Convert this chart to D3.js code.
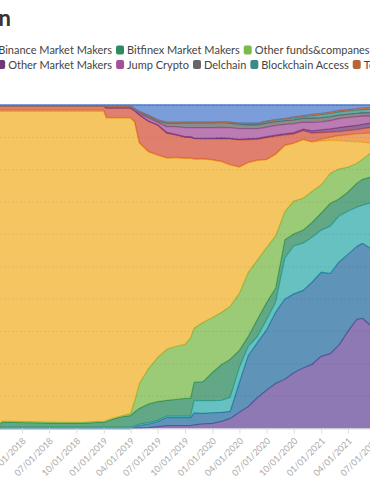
<!DOCTYPE html>
<html>
<head>
<meta charset="utf-8">
<script src="https://cdn.jsdelivr.net/npm/d3@7"></script>
<style>
  html, body { margin: 0; padding: 0; background: #fff; overflow: hidden; }
  #chart { width: 370px; height: 490px; }
  text { font-family: Lato, "Noto Sans", sans-serif; }
</style>
</head>
<body>
<div id="chart"></div>
<script>
// Datos (porcentaje del total en cada fecha)
const dates = ["2018-01-01","2018-01-25","2018-03-01","2018-05-01","2018-07-01","2018-09-01","2018-11-01","2018-12-15",
  "2019-01-01","2019-01-10","2019-02-01","2019-03-01","2019-04-01","2019-04-15","2019-05-01","2019-06-01","2019-07-01",
  "2019-08-01","2019-09-01","2019-10-01","2019-10-20","2019-11-01","2019-12-01","2020-01-01","2020-02-01","2020-03-01",
  "2020-04-01","2020-05-01","2020-06-01","2020-07-01","2020-08-01","2020-09-01","2020-10-01","2020-11-01","2020-12-01",
  "2021-01-01","2021-02-01","2021-03-01","2021-04-01","2021-05-01","2021-05-20","2021-06-15","2021-07-01"];

const seriesNames = ["Alameda Research", "Cumberland", "Binance Market Makers", "Bitfinex Market Makers",
  "Other funds&companes", "Bitfinex", "Huobi", "Other exchanges", "Other Market Makers", "Jump Crypto",
  "Delchain", "Blockchain Access", "Tether Treasury", "Unknown"];

const seriesColors = ["#6a4c9c", "#2a6fa0", "#36acac", "#2e8b5e", "#7bb94b", "#f2b12c", "#e8892f",
  "#d4553f", "#6e3a78", "#a44f9a", "#666666", "#3a8a87", "#b8643a", "#4f7ccc"];

const alameda = [0,0,0,0,0,0,0,0,0,0,0,0,0,0.1,0.15,0.3,0.6,0.9,0.9,0.9,0.9,1.1,1.4,1.6,2.2,3.1,5.0,6.8,9.6,11.8,13.9,15.2,17.3,18.7,19.8,22.3,23.2,25.7,30.0,33.7,34.1,31.9,31.5];
const cumberland = [0,0,0,0,0,0,0,0,0,0,0,0,0,0.3,0.8,1.1,1.5,2.5,2.5,2.5,2.5,3.7,3.3,3.3,2.8,2.2,9.3,15.8,17.0,18.6,22.0,24.8,24.5,24.0,25.4,26.0,24.8,25.7,23.9,22.6,23.2,23.8,24.0];
const binanceMM = [0.4,0.4,0.4,0.4,0.4,0.4,0.4,0.4,0.4,0.4,0.4,0.4,0.4,0.4,0.4,0.4,0.4,0.4,0.4,0.4,0.4,3.9,3.9,3.7,3.7,4.3,4.6,2.8,1.9,3.1,3.1,12.7,14.9,14.6,13.9,13.0,14.6,14.2,13.3,12.1,11.8,13.9,14.0];
const bitfinexMM = [0,1.55,1.5,1.4,1.3,1.2,1.3,1.5,1.5,1.8,2.5,3.2,3.6,4.4,4.9,5.8,5.8,4.9,5.2,5.5,5.6,5.6,5.9,8.7,11.1,11.8,5.3,3.1,5.3,5.3,4.3,5.6,3.7,4.0,4.6,5.3,7.1,5.3,5.9,7.4,8.0,8.0,8.0];
const otherFunds = [0.3,0.3,0.3,0.3,0.3,0.3,0.3,0.3,0.3,0.3,0.3,0.3,0.6,3.4,7.7,11.0,13.6,15.8,16.4,16.7,18.6,16.7,18.3,17.0,16.1,16.4,17.6,19.8,18.3,17.0,16.1,8.7,10.2,9.9,9.6,8.7,9.3,9.3,7.7,6.2,6.2,7.4,7.4];
const bitfinex = [97.3,95.8,95.8,95.9,96.0,96.1,96.0,95.8,95.8,93.5,92.8,92.1,91.4,86.1,74.3,66.9,62.5,59.1,58.4,57.6,55.4,52.2,50.5,48.7,46.6,43.7,39.0,33.9,30.7,27.2,25.1,20.4,17.9,18.1,15.2,13.6,10.2,8.8,8.0,6.7,5.3,3.1,3.0];
const huobi = [0.4,0.4,0.4,0.4,0.4,0.4,0.4,0.4,0.4,0.1,0.1,0.1,0.1,0.1,0.1,0.1,0.1,0.1,0.1,0.1,0.1,0.1,0.1,0.1,0.1,0.1,0.1,0.1,0.1,0.1,0.1,0.1,0.1,0.1,0.2,0.5,1.0,1.5,2.0,2.4,2.7,3.1,3.1];
const otherExchanges = [1.2,1.2,1.2,1.2,1.2,1.2,1.2,1.2,1.2,3.0,3.0,3.0,3.0,3.4,8.6,9.3,9.2,7.6,6.9,6.4,6.4,6.2,6.1,6.4,7.0,7.9,8.3,7.0,6.4,6.7,5.5,3.2,2.8,2.7,2.6,2.1,1.5,1.3,1.3,1.3,1.5,1.7,1.7];
const otherMM = [0,0,0,0,0,0,0,0,0,0,0,0,0,0,0.1,0.1,0.1,0.2,0.2,0.2,0.2,0.2,0.2,0.2,0.2,0.2,0.2,0.3,0.3,0.3,0.3,0.3,0.4,0.4,0.7,0.8,1.0,1.2,1.3,1.3,1.3,1.4,1.4];
const jumpCrypto = [0,0,0,0,0,0,0,0,0,0.5,0.5,0.5,0.5,0.3,0.5,1.0,0.8,1.8,2.4,2.8,2.8,3.2,3.3,3.3,3.3,3.3,3.3,3.1,3.0,3.0,3.0,2.9,2.8,2.2,2.6,2.5,2.6,2.8,2.8,2.7,2.6,2.2,2.2];
const delchain = [0,0,0,0,0,0,0,0,0,0,0,0,0,0.3,0.4,0.6,0.5,1.1,1.1,1.5,1.5,1.5,1.5,1.5,1.5,1.4,1.3,1.2,1.2,1.2,1.2,1.2,1.2,1.2,1.3,1.3,1.2,1.1,1.0,1.0,1.0,1.0,1.0];
const blockchainAccess = [0,0,0,0,0,0,0,0,0,0,0,0,0,0,0,0.1,0.1,0.1,0.1,0.1,0.1,0.1,0.1,0.1,0.1,0.2,0.3,0.4,0.4,0.5,0.5,0.5,0.6,0.6,0.8,0.9,1.0,1.0,1.0,1.0,1.0,1.1,1.1];
const tetherTreasury = [0,0,0,0,0,0,0,0,0,0,0,0,0,0,0.1,0.2,0.2,0.2,0.2,0.1,0.1,0.1,0.1,0.1,0.1,0.1,0.1,0.1,0.1,0.1,0.1,0.1,0.3,0.2,0.4,0.4,0.4,0.4,0.4,0.5,0.5,0.5,0.5];
const unknown = [0.4,0.4,0.4,0.4,0.4,0.4,0.4,0.4,0.4,0.4,0.4,0.4,0.4,1.2,2.0,3.1,4.5,5.3,5.3,5.3,5.3,5.3,5.3,5.3,5.2,5.3,5.6,5.6,5.6,5.0,4.5,4.2,3.7,3.3,2.9,2.6,2.2,1.7,1.4,1.1,0.9,0.8,0.8];

const tickDates = ["2018-01-01","2018-04-01","2018-07-01","2018-10-01","2019-01-01","2019-04-01","2019-07-01","2019-10-01",
  "2020-01-01","2020-04-01","2020-07-01","2020-10-01","2021-01-01","2021-04-01","2021-07-01"];

const seriesValues = [alameda, cumberland, binanceMM, bitfinexMM, otherFunds, bitfinex, huobi, otherExchanges,
  otherMM, jumpCrypto, delchain, blockchainAccess, tetherTreasury, unknown];

const legendRow1 = seriesNames.slice(0, 8);
const legendRow2 = seriesNames.slice(8);

const parseDate = d3.timeParse("%Y-%m-%d");

// Tabla para d3.stack
const table = dates.map((d, i) => {
    const row = { date: parseDate(d) };
    seriesNames.forEach((name, j) => { row[name] = seriesValues[j][i]; });
    return row;
});

const width = 370, height = 490;
// El grafico original es mas ancho: solo se ve la parte central
const plot = { left: -4.8, right: 375, top: 105, bottom: 428.5 };

const svg = d3.select("#chart")
    .append("svg")
    .attr("width", width)
    .attr("height", height);

const x = d3.scaleTime()
    .domain(d3.extent(table, d => d.date))
    .range([plot.left, plot.right]);

const y = d3.scaleLinear()
    .domain([0, 1])
    .range([plot.bottom, plot.top]);

const color = d3.scaleOrdinal().domain(seriesNames).range(seriesColors);

const stacked = d3.stack()
    .keys(seriesNames)
    .offset(d3.stackOffsetExpand)(table);

const area = d3.area()
    .x(d => x(d.data.date))
    .y0(d => y(d[0]))
    .y1(d => y(d[1]));

const topLine = d3.line()
    .x(d => x(d.data.date))
    .y(d => y(d[1]));

// Areas
const layers = svg.append("g").attr("class", "layers")
    .selectAll("g")
    .data(stacked)
    .join("g");

layers.append("path")
    .attr("d", area)
    .attr("fill", d => color(d.key))
    .attr("fill-opacity", 0.75);

layers.append("path")
    .attr("d", topLine)
    .attr("fill", "none")
    .attr("stroke", d => color(d.key))
    .attr("stroke-width", 1.3)
    .attr("stroke-linejoin", "round");

// Lineas de la cuadricula
svg.append("g")
    .attr("class", "grid")
    .selectAll("line")
    .data(y.ticks(10))
    .join("line")
    .attr("x1", 0)
    .attr("x2", width)
    .attr("y1", d => y(d))
    .attr("y2", d => y(d))
    .attr("stroke", "#000")
    .attr("stroke-opacity", 0.07)
    .attr("stroke-dasharray", "2,2");

// Eje X
const xAxis = svg.append("g")
    .attr("class", "x-axis")
    .attr("transform", `translate(0,${plot.bottom})`)
    .call(d3.axisBottom(x)
        .tickValues(tickDates.map(parseDate))
        .tickFormat(d3.timeFormat("%m/%d/%Y"))
        .tickSize(5)
        .tickSizeOuter(0));

xAxis.select(".domain").attr("stroke", "#ddd");
xAxis.selectAll(".tick line").attr("stroke", "#ddd");
xAxis.selectAll(".tick text")
    .attr("x", 0)
    .attr("y", 0)
    .attr("dy", 0)
    .attr("text-anchor", "end")
    .attr("transform", "translate(4,13) rotate(-45)")
    .style("font-family", "Lato, sans-serif")
    .style("font-size", "9px")
    .attr("fill", "#aaa");

// Titulo (recortado por la izquierda)
svg.append("text")
    .attr("x", 11)
    .attr("y", 26)
    .attr("text-anchor", "end")
    .style("font-size", "22px")
    .style("font-weight", "bold")
    .attr("fill", "#333")
    .text("USDT distribution");

// Leyenda
function legendRow(names, baseline, anchorName, anchorX) {
    const row = svg.append("g").attr("class", "legend-row");
    const items = row.selectAll("g").data(names).join("g");

    items.append("rect")
        .attr("width", 8)
        .attr("height", 9)
        .attr("rx", 2)
        .attr("y", baseline - 8.5)
        .attr("fill", d => color(d));

    items.append("text")
        .attr("x", 11)
        .attr("y", baseline)
        .style("font-size", "11px")
        .attr("fill", "#444")
        .text(d => d);

    const pos = {};
    let cx = 0;
    items.each(function(d) {
        pos[d] = cx;
        cx += 11 + d3.select(this).select("text").node().getComputedTextLength() + 4;
    });
    const shift = anchorX - pos[anchorName];
    items.attr("transform", d => `translate(${pos[d] + shift},0)`);
}

// anclar en el elemento central de cada fila
legendRow(legendRow1, 54, "Bitfinex Market Makers", 116);
legendRow(legendRow2, 68.5, "Delchain", 193);
</script>
</body>
</html>
